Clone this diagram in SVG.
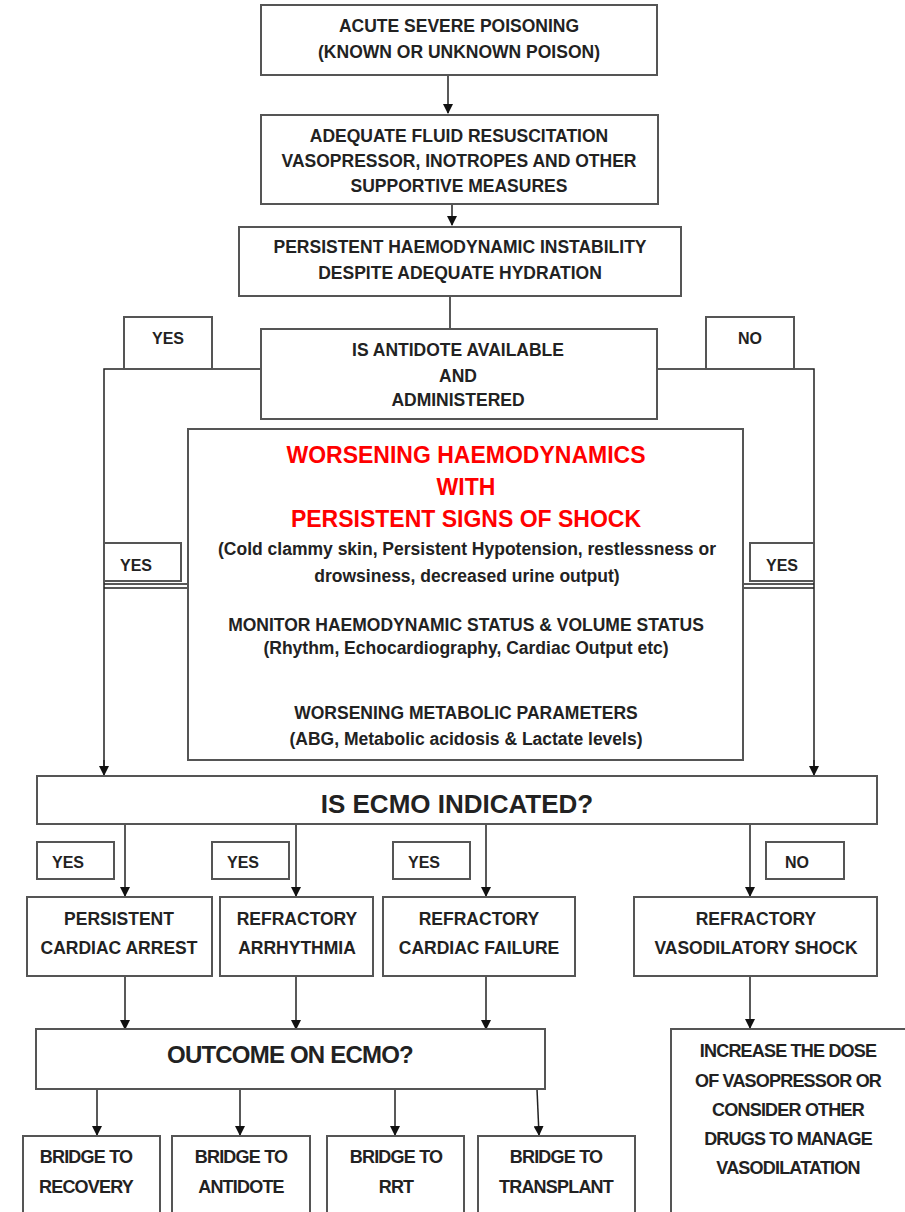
<svg xmlns="http://www.w3.org/2000/svg" width="905" height="1212" viewBox="0 0 905 1212">
<defs>
<marker id="ah" markerWidth="10" markerHeight="10" refX="9" refY="5" orient="auto" markerUnits="userSpaceOnUse">
<path d="M0,0 L10,5 L0,10 Z" fill="#111"/>
</marker>
<style>
rect{fill:#fff;stroke:#555;stroke-width:2}
.t{font-family:"Liberation Sans",Arial,sans-serif;font-weight:bold;fill:#222;text-anchor:middle;font-size:17.5px}
.y{font-size:16px}
.r{fill:#ff0000;font-size:23px}
.big{font-size:26px}
.mid{font-size:24px;letter-spacing:-0.8px}
.c{font-size:18px;letter-spacing:-0.8px}
.ln{stroke:#222;stroke-width:1.5;fill:none}
.ar{stroke:#222;stroke-width:1.5;fill:none;marker-end:url(#ah)}
</style>
</defs>
<rect x="0" y="0" width="905" height="1212" style="fill:#fff;stroke:none"/>

<g id="connectors">
<path class="ar" d="M448,75 V113"/>
<path class="ar" d="M452,204 V225"/>
<path class="ln" d="M450,296 V329"/>
<path class="ln" d="M261,369 H104 V770"/>
<path class="ar" d="M104,760 V775"/>
<path class="ln" d="M657,369 H814 V770"/>
<path class="ar" d="M814,760 V775"/>
<path class="ln" d="M104,584 H188 M104,588 H188"/>
<path class="ln" d="M743,584 H814 M743,588 H814"/>
<path class="ar" d="M125,824 V896"/>
<path class="ar" d="M296,824 V896"/>
<path class="ar" d="M486,824 V896"/>
<path class="ar" d="M750,824 V896"/>
<path class="ar" d="M125,976 V1029"/>
<path class="ar" d="M296,976 V1029"/>
<path class="ar" d="M486,976 V1029"/>
<path class="ar" d="M750,976 V1028"/>
<path class="ar" d="M97,1089 V1135"/>
<path class="ar" d="M240,1089 V1135"/>
<path class="ar" d="M395,1089 V1135"/>
<path class="ar" d="M537,1089 L539,1135"/>
</g>

<g id="n1"><rect x="261" y="5" width="396" height="70"/>
<text class="t" x="459" y="32">ACUTE SEVERE POISONING</text>
<text class="t" x="459" y="58">(KNOWN OR UNKNOWN POISON)</text></g>

<g id="n2"><rect x="261" y="115" width="397" height="89"/>
<text class="t" x="459" y="142">ADEQUATE FLUID RESUSCITATION</text>
<text class="t" x="459" y="167">VASOPRESSOR, INOTROPES AND OTHER</text>
<text class="t" x="459" y="192">SUPPORTIVE MEASURES</text></g>

<g id="n3"><rect x="239" y="227" width="442" height="69"/>
<text class="t" x="460" y="253">PERSISTENT HAEMODYNAMIC INSTABILITY</text>
<text class="t" x="460" y="279">DESPITE ADEQUATE HYDRATION</text></g>

<g id="l_yes1"><rect x="124" y="317" width="88" height="52"/>
<text class="t y" x="168" y="344">YES</text></g>
<g id="l_no1"><rect x="706" y="317" width="88" height="52"/>
<text class="t y" x="750" y="344">NO</text></g>

<g id="n4"><rect x="261" y="329" width="396" height="90"/>
<text class="t" x="458" y="356">IS ANTIDOTE AVAILABLE</text>
<text class="t" x="458" y="382">AND</text>
<text class="t" x="458" y="406">ADMINISTERED</text></g>

<g id="n5"><rect x="188" y="429" width="555" height="331"/>
<text class="t r" x="466" y="463">WORSENING HAEMODYNAMICS</text>
<text class="t r" x="466" y="495">WITH</text>
<text class="t r" x="466" y="527">PERSISTENT SIGNS OF SHOCK</text>
<text class="t" x="467" y="555">(Cold clammy skin, Persistent Hypotension, restlessness or</text>
<text class="t" x="467" y="582">drowsiness, decreased urine output)</text>
<text class="t" x="466" y="631">MONITOR HAEMODYNAMIC STATUS &amp; VOLUME STATUS</text>
<text class="t" x="466" y="654">(Rhythm, Echocardiography, Cardiac Output etc)</text>
<text class="t" x="466" y="719">WORSENING METABOLIC PARAMETERS</text>
<text class="t" x="466" y="745">(ABG, Metabolic acidosis &amp; Lactate levels)</text></g>

<g id="l_yes2"><rect x="104" y="543" width="77" height="38"/>
<text class="t y" x="136" y="571">YES</text></g>
<g id="l_yes3"><rect x="750" y="543" width="64" height="38"/>
<text class="t y" x="782" y="571">YES</text></g>

<g id="n6"><rect x="37" y="776" width="840" height="48"/>
<text class="t big" x="457" y="813">IS ECMO INDICATED?</text></g>

<g id="l_yes4"><rect x="37" y="842" width="77" height="37"/><text class="t y" x="68" y="868">YES</text></g>
<g id="l_yes5"><rect x="212" y="842" width="77" height="37"/><text class="t y" x="243" y="868">YES</text></g>
<g id="l_yes6"><rect x="393" y="842" width="77" height="37"/><text class="t y" x="424" y="868">YES</text></g>
<g id="l_no2"><rect x="766" y="842" width="78" height="37"/><text class="t y" x="797" y="868">NO</text></g>

<g id="n7"><rect x="27" y="897" width="185" height="79"/>
<text class="t" x="119" y="925">PERSISTENT</text>
<text class="t" x="119" y="954">CARDIAC ARREST</text></g>
<g id="n8"><rect x="220" y="897" width="153" height="79"/>
<text class="t" x="297" y="925">REFRACTORY</text>
<text class="t" x="297" y="954">ARRHYTHMIA</text></g>
<g id="n9"><rect x="383" y="897" width="192" height="79"/>
<text class="t" x="479" y="925">REFRACTORY</text>
<text class="t" x="479" y="954">CARDIAC FAILURE</text></g>
<g id="n10"><rect x="634" y="897" width="243" height="79"/>
<text class="t" x="756" y="925">REFRACTORY</text>
<text class="t" x="756" y="954">VASODILATORY SHOCK</text></g>

<g id="n11"><rect x="36" y="1029" width="509" height="60"/>
<text class="t mid" x="290" y="1063">OUTCOME ON ECMO?</text></g>

<g id="n12"><rect x="671" y="1029" width="240" height="200"/>
<text class="t c" x="788" y="1057">INCREASE THE DOSE</text>
<text class="t c" x="788" y="1087">OF VASOPRESSOR OR</text>
<text class="t c" x="788" y="1116">CONSIDER OTHER</text>
<text class="t c" x="788" y="1145">DRUGS TO MANAGE</text>
<text class="t c" x="788" y="1174">VASODILATATION</text></g>

<g id="n13"><rect x="23" y="1136" width="137" height="90"/>
<text class="t c" x="86" y="1163">BRIDGE TO</text>
<text class="t c" x="86" y="1193">RECOVERY</text></g>
<g id="n14"><rect x="172" y="1136" width="138" height="90"/>
<text class="t c" x="241" y="1163">BRIDGE TO</text>
<text class="t c" x="241" y="1193">ANTIDOTE</text></g>
<g id="n15"><rect x="327" y="1136" width="137" height="90"/>
<text class="t c" x="396" y="1163">BRIDGE TO</text>
<text class="t c" x="396" y="1193">RRT</text></g>
<g id="n16"><rect x="478" y="1136" width="157" height="90"/>
<text class="t c" x="556" y="1163">BRIDGE TO</text>
<text class="t c" x="556" y="1193">TRANSPLANT</text></g>
</svg>
